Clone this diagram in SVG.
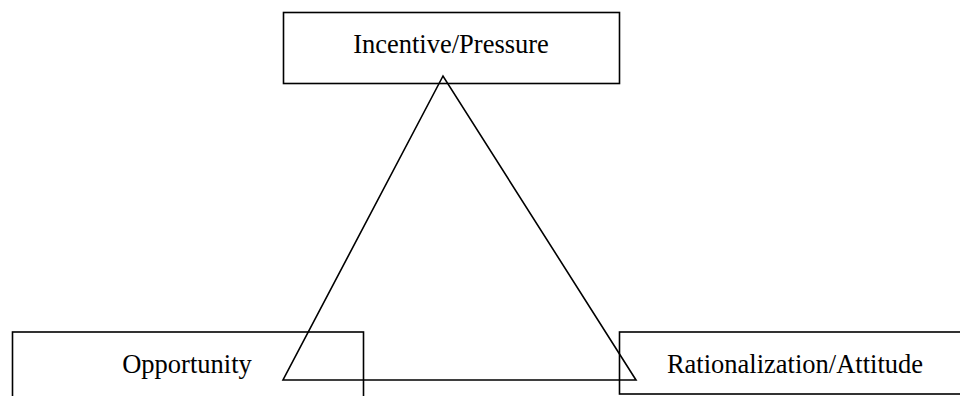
<svg xmlns="http://www.w3.org/2000/svg" width="960" height="396" viewBox="0 0 960 396">
<style>
.box{fill:none;stroke:#000;stroke-width:1.6}
.lbl{font-family:"Liberation Serif","Times New Roman",serif;font-size:26.5px;fill:#000;text-anchor:middle}
.tri{fill:none;stroke:#000;stroke-width:1.6;stroke-linejoin:miter}
</style>
<rect width="960" height="396" fill="#fff"/>
<g id="incentive">
<rect class="box" x="283.5" y="12.5" width="336" height="71"/>
<text class="lbl" x="451" y="53">Incentive/Pressure</text>
</g>
<g id="opportunity">
<rect class="box" x="12.5" y="332" width="351" height="80"/>
<text class="lbl" x="187" y="373">Opportunity</text>
</g>
<g id="rationalization">
<rect class="box" x="619.5" y="332" width="352" height="62"/>
<text class="lbl" x="795" y="373">Rationalization/Attitude</text>
</g>
<g id="connectors">
<polygon class="tri" points="443,76 283,380 636,380"/>
</g>
</svg>
